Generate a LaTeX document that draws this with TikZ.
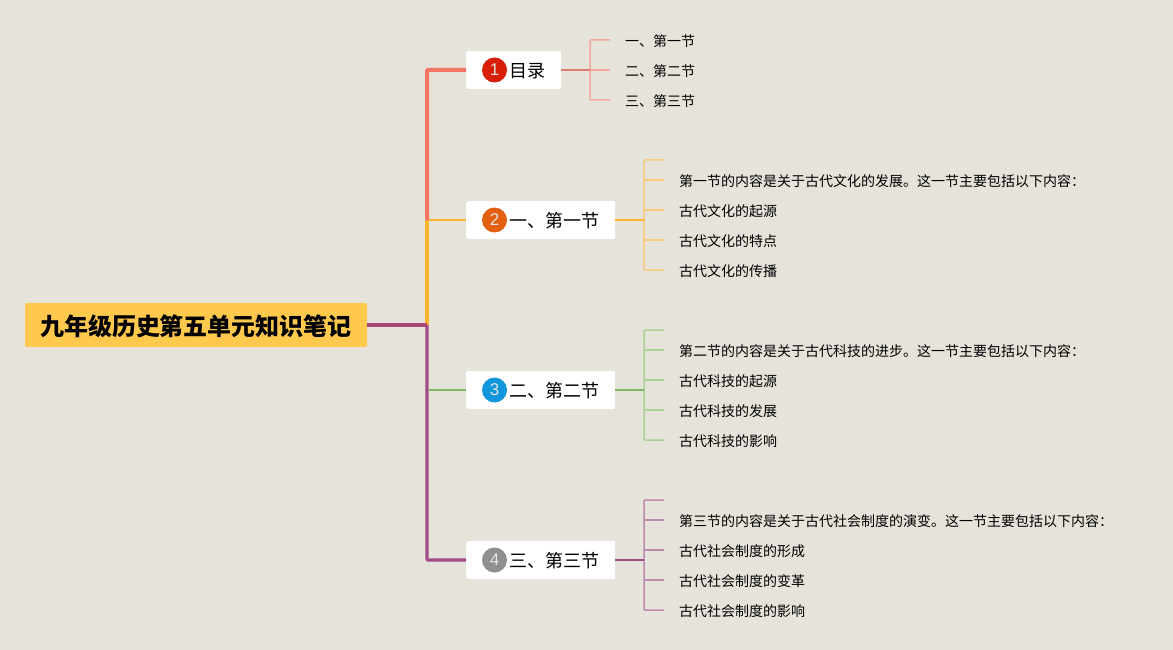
\documentclass[tikz,border=0pt]{standalone}
\usepackage{fontspec}
\usepackage{xcolor}
\setmainfont{Noto Sans CJK SC}
\newfontfamily\numfont{Liberation Sans}
\definecolor{paper}{HTML}{E6E3DB}
\definecolor{rootfill}{HTML}{FFC94D}
\definecolor{redline}{HTML}{F47564}
\definecolor{redleaf}{HTML}{F2A99C}
\definecolor{redmid}{HTML}{DD7F70}
\definecolor{orangeline}{HTML}{FDB52F}
\definecolor{orangeleaf}{HTML}{F6CB7C}
\definecolor{greenline}{HTML}{7DB966}
\definecolor{greenleaf}{HTML}{ABD194}
\definecolor{purpleline}{HTML}{A04C86}
\definecolor{purpleleaf}{HTML}{BC8AAC}
\definecolor{badgeone}{HTML}{D81E06}
\definecolor{badgetwo}{HTML}{E36012}
\definecolor{badgethree}{HTML}{1296DB}
\definecolor{badgefour}{HTML}{8F8F8F}
\begin{document}
\begin{tikzpicture}
	[x=1pt, y=-1pt,
	root/.style = {fill=rootfill, rounded corners=2pt, minimum width=342pt, minimum height=44pt, inner sep=0pt, text height=20pt, text depth=0pt, font=\fontsize{24}{24}\selectfont\bfseries},
	topic/.style = {fill=white, rounded corners=2pt, anchor=west, minimum height=38pt, inner ysep=0pt, inner xsep=16pt, text height=15.8pt, text depth=0pt, font=\fontsize{18}{18}\selectfont},
	badge/.style = {circle, minimum size=25pt, inner sep=0pt, text=white!90!black, font=\numfont\fontsize{17}{17}\selectfont},
	leaf/.style = {anchor=west, inner ysep=0pt, inner xsep=15pt, text height=12.6pt, text depth=0pt, font=\fontsize{14}{14}\selectfont}]
	\fill[paper] (0,0) rectangle (1173,650);
	\useasboundingbox (0,0) rectangle (1173,650);
	\node[root] (root) at (196,325) {九年级历史第五单元知识笔记};
	\coordinate (hub) at (427,325);
	\coordinate (elbow) at (427,220);
	\node[topic, minimum width=95pt] (toc) at (466,70) {\hspace*{27pt}目录};
	\node[topic, minimum width=149pt] (sec1) at (466,220) {\hspace*{27pt}一、第一节};
	\node[topic, minimum width=149pt] (sec2) at (466,390) {\hspace*{27pt}二、第二节};
	\node[topic, minimum width=149pt] (sec3) at (466,560) {\hspace*{27pt}三、第三节};
	\node[badge, fill=badgeone] (num1) at (494.5,70) {1};
	\node[badge, fill=badgetwo] (num2) at (494.5,220) {2};
	\node[badge, fill=badgethree] (num3) at (494.5,390) {3};
	\node[badge, fill=badgefour] (num4) at (494.5,560) {4};
	% first topic leaves
	\node[leaf] (a1) at (610,40) {一、第一节};
	\node[leaf] (a2) at (610,70) {二、第二节};
	\node[leaf] (a3) at (610,100) {三、第三节};
	% second topic leaves
	\coordinate (b0) at (664,160);
	\node[leaf] (b1) at (664,180) {第一节的内容是关于古代文化的发展。这一节主要包括以下内容：};
	\node[leaf] (b2) at (664,210) {古代文化的起源};
	\node[leaf] (b3) at (664,240) {古代文化的特点};
	\node[leaf] (b4) at (664,270) {古代文化的传播};
	% third topic leaves
	\coordinate (c0) at (664,330);
	\node[leaf] (c1) at (664,350) {第二节的内容是关于古代科技的进步。这一节主要包括以下内容：};
	\node[leaf] (c2) at (664,380) {古代科技的起源};
	\node[leaf] (c3) at (664,410) {古代科技的发展};
	\node[leaf] (c4) at (664,440) {古代科技的影响};
	% fourth topic leaves
	\coordinate (d0) at (664,500);
	\node[leaf] (d1) at (664,520) {第三节的内容是关于古代社会制度的演变。这一节主要包括以下内容：};
	\node[leaf] (d2) at (664,550) {古代社会制度的形成};
	\node[leaf] (d3) at (664,580) {古代社会制度的变革};
	\node[leaf] (d4) at (664,610) {古代社会制度的影响};
	% junctions
	\coordinate (ja) at (590,70);
	\coordinate (jb) at (644,220);
	\coordinate (jc) at (644,390);
	\coordinate (jd) at (644,560);
	% trunk
	\draw[purpleline, line width=3.2pt, rounded corners=1pt] (hub) |- (sec3.west);
	\draw[orangeline, line width=3.2pt] (hub) -- (elbow);
	\draw[orangeline, line width=2.6pt] (elbow) -- (sec1.west);
	\draw[redline, line width=4pt, rounded corners=1pt] (elbow) |- (toc.west);
	\draw[greenline, line width=2.2pt] (428.5,390) -- (sec2.west);
	\draw[purpleline!92!red, line width=3.2pt] (root.east) -- (hub);
	% first topic
	\draw[redleaf, line width=1.5pt, rounded corners=1pt] (a1.west) -| (ja) |- (a3.west);
	\draw[redleaf, line width=1.5pt] (ja) -- (a2.west);
	\draw[redmid, line width=2pt] (toc.east) -- (ja);
	% second topic
	\draw[orangeleaf, line width=1.5pt, rounded corners=1pt] (b0) -| (jb) |- (b4.west);
	\draw[orangeleaf, line width=1.5pt] (644,180) -- (b1.west);
	\draw[orangeleaf, line width=1.5pt] (644,210) -- (b2.west);
	\draw[orangeleaf, line width=1.5pt] (644,240) -- (b3.west);
	\draw[orangeline, line width=2.4pt] (sec1.east) -- (jb);
	% third topic
	\draw[greenleaf, line width=1.5pt, rounded corners=1pt] (c0) -| (jc) |- (c4.west);
	\draw[greenleaf, line width=1.5pt] (644,350) -- (c1.west);
	\draw[greenleaf, line width=1.5pt] (644,380) -- (c2.west);
	\draw[greenleaf, line width=1.5pt] (644,410) -- (c3.west);
	\draw[greenline, line width=2.4pt] (sec2.east) -- (jc);
	% fourth topic
	\draw[purpleleaf, line width=1.5pt, rounded corners=1pt] (d0) -| (jd) |- (d4.west);
	\draw[purpleleaf, line width=1.5pt] (644,520) -- (d1.west);
	\draw[purpleleaf, line width=1.5pt] (644,550) -- (d2.west);
	\draw[purpleleaf, line width=1.5pt] (644,580) -- (d3.west);
	\draw[purpleline, line width=2.4pt] (sec3.east) -- (jd);
\end{tikzpicture}
\end{document}
